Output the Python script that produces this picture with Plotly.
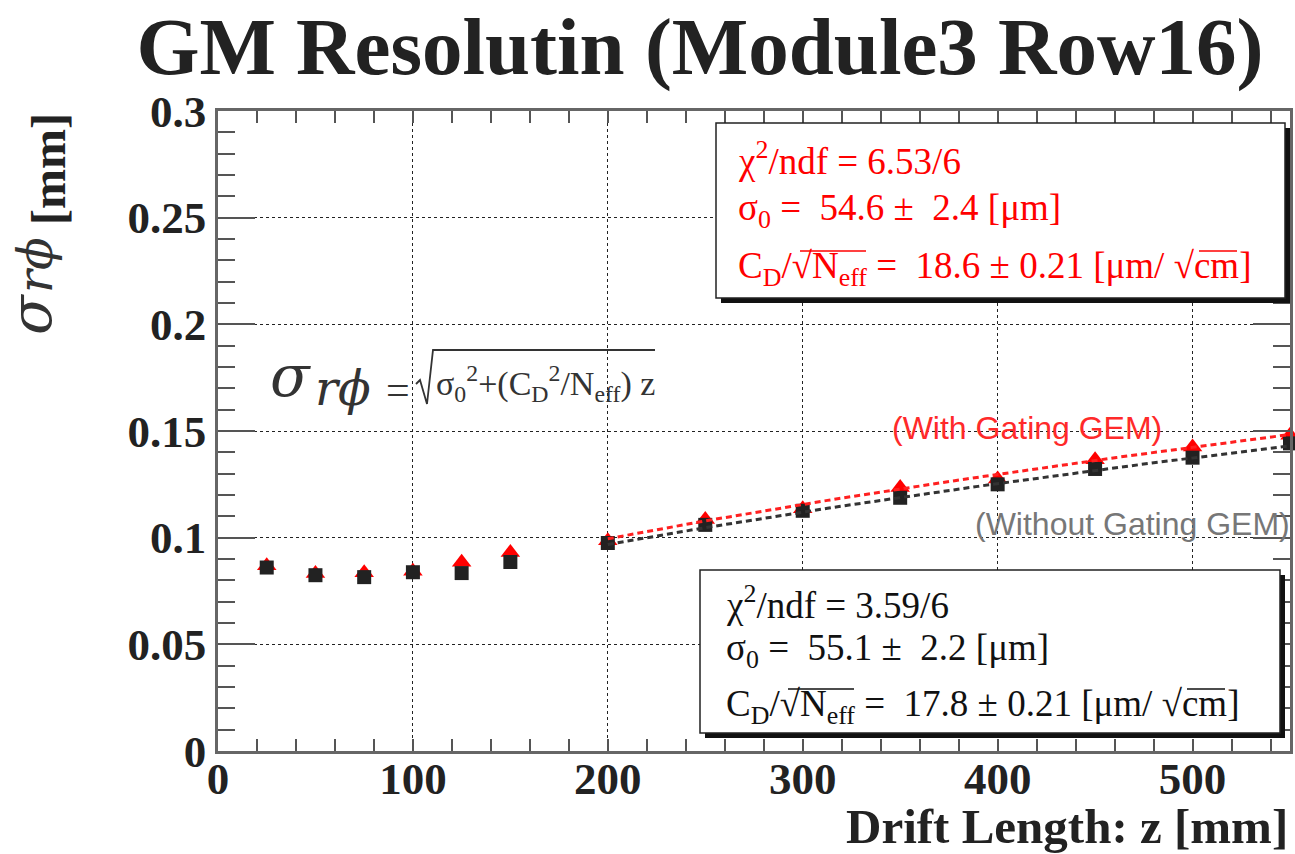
import numpy as np
import plotly.graph_objects as go

# ---------------- data ----------------
drift_mm = [25, 50, 75, 100, 125, 150, 200, 250, 300, 350, 400, 450, 500, 550]
sigma_with_gem = [0.0868, 0.0832, 0.0836, 0.0842, 0.0885, 0.0930, 0.0985,
                  0.1085, 0.1135, 0.1235, 0.1275, 0.1365, 0.1425, 0.1480]
sigma_without_gem = [0.0860, 0.0824, 0.0815, 0.0838, 0.0834, 0.0886, 0.0975,
                     0.1060, 0.1126, 0.1187, 0.1250, 0.1322, 0.1375, 0.1442]

# fit results (shown in the stat boxes)
fit_with_chi2 = "6.53/6"
fit_with_sigma0 = 54.6      # um
fit_with_sigma0_err = 2.4
fit_with_cd = 18.6          # um/sqrt(cm)
fit_with_cd_err = 0.21
fit_without_chi2 = "3.59/6"
fit_without_sigma0 = 55.1
fit_without_sigma0_err = 2.2
fit_without_cd = 17.8
fit_without_cd_err = 0.21
fit_range_mm = [200, 550]

xtick_vals = [0, 100, 200, 300, 400, 500]
xtick_text = ["0", "100", "200", "300", "400", "500"]
ytick_vals = [0, 0.05, 0.1, 0.15, 0.2, 0.25, 0.3]
ytick_text = ["0", "0.05", "0.1", "0.15", "0.2", "0.25", "0.3"]

# ---------------- layout geometry ----------------
W, H = 1295, 854
L, R, T, B = 218, 5, 111, 103
SERIF = "Liberation Serif"
MATH = "DejaVu Serif"
SANS = "Liberation Sans"


def px(x):
    return (x - L) / (W - L - R)


def py(y):
    return (H - B - y) / (H - T - B)


def fit_curve(s0, cd):
    z = np.linspace(fit_range_mm[0], fit_range_mm[1], 60)
    return z, np.sqrt(s0 ** 2 + cd ** 2 * z / 10.0) / 1000.0


fig = go.Figure()

fig.add_trace(go.Scatter(x=drift_mm, y=sigma_with_gem, mode="markers",
                         marker=dict(symbol="triangle-up", size=17, color="#ff0000"),
                         cliponaxis=False, showlegend=False))
fig.add_trace(go.Scatter(x=drift_mm, y=sigma_without_gem, mode="markers",
                         marker=dict(symbol="square", size=14, color="#222222"),
                         cliponaxis=False, showlegend=False))
zb, sb = fit_curve(fit_without_sigma0, fit_without_cd)
fig.add_trace(go.Scatter(x=zb, y=sb, mode="lines",
                         line=dict(color="#333333", width=3, dash="6px,4px"),
                         showlegend=False))
zr, sr = fit_curve(fit_with_sigma0, fit_with_cd)
fig.add_trace(go.Scatter(x=zr, y=sr, mode="lines",
                         line=dict(color="#ff2020", width=3, dash="6px,4px"),
                         showlegend=False))

axis_common = dict(
    showline=True, linecolor="#666666", linewidth=2.5, mirror="ticks",
    ticks="inside", tickcolor="#555555", tickwidth=2,
    showgrid=True, gridcolor="#222222", gridwidth=1.3, griddash="dot",
    zeroline=False, automargin=False,
    tickfont=dict(family=SERIF, size=45, color="#222222", weight="bold"),
)

fig.update_xaxes(range=[0, 550], tickvals=xtick_vals, ticktext=xtick_text,
                 ticklen=12, ticklabelstandoff=-14,
                 minor=dict(dtick=20, ticklen=12, ticks="inside", tickcolor="#555555",
                            tickwidth=2, showgrid=False),
                 **axis_common)
fig.update_yaxes(range=[0, 0.3], tickvals=ytick_vals, ticktext=ytick_text,
                 ticklen=37,
                 minor=dict(dtick=0.01, ticklen=17, ticks="inside", tickcolor="#555555",
                            tickwidth=2, showgrid=False),
                 **axis_common)

shapes = []
annotations = []


def stat_box(x0, y0, x1, y1):
    shapes.append(dict(type="rect", xref="paper", yref="paper",
                       x0=px(x0 + 5), x1=px(x1 + 5), y0=py(y1 + 5), y1=py(y0 + 5),
                       fillcolor="#111111", line=dict(width=0)))
    shapes.append(dict(type="rect", xref="paper", yref="paper",
                       x0=px(x0), x1=px(x1), y0=py(y1), y1=py(y0),
                       fillcolor="white", line=dict(color="#222222", width=1.5)))


def text(x, y, s, size, color, family=SERIF, xanchor="left", angle=0):
    annotations.append(dict(xref="paper", yref="paper", x=px(x), y=py(y), text=s,
                            showarrow=False, xanchor=xanchor, yanchor="middle",
                            textangle=angle,
                            font=dict(family=family, size=size, color=color)))


def hline(x0, x1, y, color, width=1.5):
    shapes.append(dict(type="line", xref="paper", yref="paper",
                       x0=px(x0), x1=px(x1), y0=py(y), y1=py(y),
                       line=dict(color=color, width=width)))


def radical(pts, color, width=1.5):
    d = "M " + " L ".join(f"{px(a):.5f},{py(b):.5f}" for a, b in pts)
    shapes.append(dict(type="path", xref="paper", yref="paper", path=d,
                       line=dict(color=color, width=width)))


nb = "\u00a0"
# red stat box (with gating GEM)
stat_box(716, 123, 1285, 298)
text(736, 158, f"χ<sup>2</sup>/ndf = {fit_with_chi2}", 37, "#ff0000")
text(736, 210, f"σ<sub>0</sub> ={nb}{nb}{fit_with_sigma0} ±{nb}{nb}{fit_with_sigma0_err} [μm]", 37, "#ff0000")
text(736, 268, f"C<sub>D</sub>/√N<sub>eff</sub> ={nb}{nb}{fit_with_cd} ± {fit_with_cd_err} [μm/ √cm]", 37, "#ff0000")
hline(800, 866, 251, "#ff0000", 1.5)
hline(1199, 1237, 251, "#ff0000", 1.5)

# black stat box (without gating GEM)
stat_box(700, 570, 1280, 733)
text(724, 602, f"χ<sup>2</sup>/ndf = {fit_without_chi2}", 37, "#111111")
text(724, 650, f"σ<sub>0</sub> ={nb}{nb}{fit_without_sigma0} ±{nb}{nb}{fit_without_sigma0_err} [μm]", 37, "#111111")
text(724, 706, f"C<sub>D</sub>/√N<sub>eff</sub> ={nb}{nb}{fit_without_cd} ± {fit_without_cd_err} [μm/ √cm]", 37, "#111111")
hline(788, 854, 689, "#111111", 1.5)
hline(1187, 1225, 689, "#111111", 1.5)

# formula
text(268, 376, "<i>σ</i>", 58, "#333333", family=MATH)
text(313, 388, "<i>rϕ</i>", 48, "#333333", family=MATH)
text(384, 390, "=", 42, "#333333")
text(434, 383, "σ<sub>0</sub><sup>2</sup>+(C<sub>D</sub><sup>2</sup>/N<sub>eff</sub>) z", 34, "#333333")
radical([(416, 384), (420, 380), (427, 404), (433, 350), (655, 350)], "#333333", 1.8)

# curve labels
text(1027, 428, "(With Gating GEM)", 32, "#ff2a2a", family=SANS, xanchor="center")
text(1292, 524, "(Without Gating GEM)", 32, "#777777", family=SANS, xanchor="right")

# axis titles (rotated y title built from pieces)
text(49, 169, "<b>[mm]</b>", 48, "#222222", angle=-90, xanchor="center")
text(35, 265, "<i>rϕ</i>", 48, "#333333", angle=-90, xanchor="center", family=MATH)
text(31, 315, "<i>σ</i>", 58, "#333333", angle=-90, xanchor="center", family=MATH)
text(1290, 826, "<b>Drift Length: z [mm]</b>", 49, "#222222", xanchor="right")

fig.update_layout(
    width=W, height=H,
    margin=dict(l=L, r=R, t=T, b=B, autoexpand=False),
    paper_bgcolor="white", plot_bgcolor="white",
    title=dict(text="<b>GM Resolutin (Module3 Row16)</b>", x=700 / W, xanchor="center",
               y=1 - 46 / H, yanchor="middle", yref="container",
               font=dict(family=SERIF, size=81, color="#222222")),
    shapes=shapes, annotations=annotations,
    showlegend=False,
)

fig.write_html("out.html", config={"displayModeBar": False},
               post_script="document.body.style.margin='0px';document.body.style.overflow='hidden';")
